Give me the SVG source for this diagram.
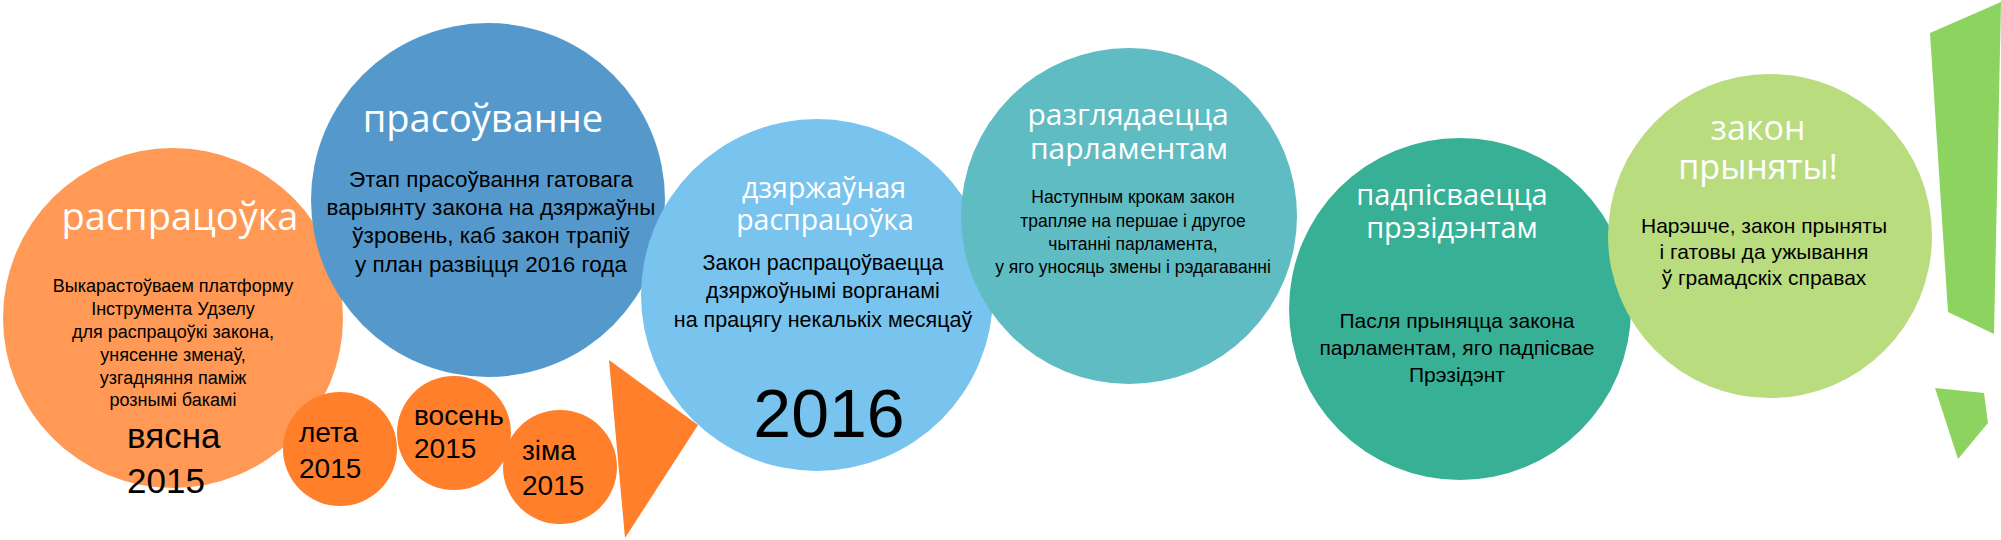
<svg xmlns="http://www.w3.org/2000/svg" width="2001" height="540" viewBox="0 0 2001 540">
<style>
.t{font-family:"Open Sans","DejaVu Sans",sans-serif;fill:#ffffff;text-anchor:middle}
.b{font-family:"Liberation Sans",Arial,sans-serif;fill:#000000;text-anchor:middle}
.s{font-family:"Liberation Sans",Arial,sans-serif;fill:#000000;font-size:28px}
</style>
<rect width="2001" height="540" fill="#ffffff"/>
<g id="stage-1">
<circle cx="173" cy="318" r="170" fill="#ff9955"/>
<text class="t" x="180" y="230" font-size="38">распрацоўка</text>
<text class="b" font-size="18"><tspan x="173" y="292">Выкарастоўваем платформу</tspan><tspan x="173" y="315">Інструмента Удзелу</tspan><tspan x="173" y="338">для распрацоўкі закона,</tspan><tspan x="173" y="361">унясенне зменаў,</tspan><tspan x="173" y="384">узгадняння паміж</tspan><tspan x="173" y="406">рознымі бакамі</tspan></text>
<text class="s" font-size="35" style="font-size:35px"><tspan x="127" y="448">вясна</tspan><tspan x="127" y="493">2015</tspan></text>
</g>
<g id="stage-2">
<circle cx="488" cy="200" r="177" fill="#5599cc"/>
<text class="t" x="483" y="132" font-size="38">прасоўванне</text>
<text class="b" font-size="22.5"><tspan x="491" y="187">Этап прасоўвання гатовага</tspan><tspan x="491" y="215">варыянту закона на дзяржаўны</tspan><tspan x="491" y="243">ўзровень, каб закон трапіў</tspan><tspan x="491" y="272">у план развіцця 2016 года</tspan></text>
</g>
<g id="summer-2015">
<circle cx="340" cy="449" r="57" fill="#ff7f2a"/>
<text class="s"><tspan x="299" y="442">лета</tspan><tspan x="299" y="478">2015</tspan></text>
</g>
<g id="autumn-2015">
<circle cx="454" cy="433" r="57" fill="#ff7f2a"/>
<text class="s"><tspan x="414" y="425">восень</tspan><tspan x="414" y="458">2015</tspan></text>
</g>
<g id="winter-2015">
<circle cx="560" cy="467" r="57" fill="#ff7f2a"/>
<text class="s"><tspan x="522" y="460">зіма</tspan><tspan x="522" y="495">2015</tspan></text>
</g>
<g id="connectors">
<polygon points="609,360 698,425 625,538" fill="#ff7f2a"/>
</g>
<g id="stage-3">
<circle cx="817" cy="295" r="176" fill="#78c4ef"/>
<text class="t" font-size="28.5"><tspan x="824" y="198">дзяржаўная</tspan><tspan x="825" y="230">распрацоўка</tspan></text>
<text class="b" font-size="21.5"><tspan x="823" y="270">Закон распрацоўваецца</tspan><tspan x="823" y="298">дзяржоўнымі ворганамі</tspan><tspan x="823" y="327">на працягу некалькіх месяцаў</tspan></text>
<text class="b" x="829" y="437" font-size="68">2016</text>
</g>
<g id="stage-4">
<circle cx="1129" cy="216" r="168" fill="#5fbcc3"/>
<text class="t" font-size="30"><tspan x="1128" y="125">разглядаецца</tspan><tspan x="1129" y="159">парламентам</tspan></text>
<text class="b" font-size="17.5"><tspan x="1133" y="203">Наступным крокам закон</tspan><tspan x="1133" y="227">трапляе на першае і другое</tspan><tspan x="1133" y="250">чытанні парламента,</tspan><tspan x="1133" y="273">у яго уносяць змены і рэдагаванні</tspan></text>
</g>
<g id="stage-5">
<circle cx="1460" cy="309" r="171" fill="#38b096"/>
<text class="t" font-size="29"><tspan x="1452" y="205">падпісваецца</tspan><tspan x="1452" y="238">прэзідэнтам</tspan></text>
<text class="b" font-size="21"><tspan x="1457" y="328">Пасля прыняцца закона</tspan><tspan x="1457" y="355">парламентам, яго падпісвае</tspan><tspan x="1457" y="382">Прэзідэнт</tspan></text>
</g>
<g id="stage-6">
<circle cx="1770" cy="236" r="162" fill="#b9dc7e"/>
<text class="t" font-size="34"><tspan x="1758" y="140">закон</tspan><tspan x="1758" y="179">прыняты!</tspan></text>
<text class="b" font-size="21"><tspan x="1764" y="233">Нарэшче, закон прыняты</tspan><tspan x="1764" y="259">і гатовы да ужывання</tspan><tspan x="1764" y="285">ў грамадскіх справах</tspan></text>
</g>
<g id="exclamation">
<polygon points="1930,33 2001,2 1994,334 1948,312" fill="#8dd35f"/>
<polygon points="1935,388 1984,393 1988,423 1958,459" fill="#8dd35f"/>
</g>
</svg>
